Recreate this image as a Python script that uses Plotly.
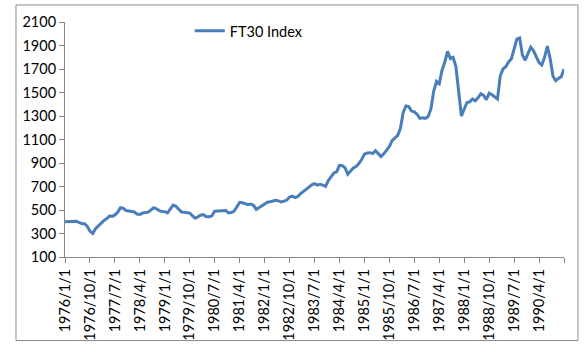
import plotly.graph_objects as go

# Monthly observations, 1976/1 .. 1991/1
months = [f"{1976 + k // 12}/{k % 12 + 1}/1" for k in range(181)]

ft30 = [
    400, 402, 405, 406, 405, 395, 385, 383, 362, 320,
    300, 340, 365, 392, 410, 425, 448, 446, 458, 480,
    520, 515, 495, 492, 490, 483, 465, 462, 474, 476,
    482, 500, 520, 510, 495, 488, 486, 475, 505, 542,
    532, 505, 482, 480, 480, 474, 450, 430, 442, 458,
    460, 443, 442, 450, 490, 492, 491, 497, 495, 475,
    478, 490, 528, 565, 562, 552, 545, 550, 540, 505,
    522, 537, 555, 566, 570, 575, 583, 578, 568, 575,
    585, 610, 618, 605, 615, 640, 656, 676, 695, 714,
    725, 712, 718, 712, 702, 750, 785, 815, 825, 880,
    878, 860, 805, 830, 857, 870, 895, 930, 975, 985,
    988, 980, 1005, 980, 955, 978, 1010, 1040, 1090, 1115,
    1135, 1195, 1330, 1385, 1380, 1342, 1335, 1315, 1280, 1285,
    1280, 1295, 1360, 1510, 1595, 1575, 1690, 1760, 1850, 1790,
    1800, 1720, 1480, 1300, 1360, 1415, 1420, 1445, 1430, 1455,
    1490, 1475, 1440, 1495, 1480, 1460, 1445, 1640, 1700, 1720,
    1760, 1785, 1865, 1955, 1965, 1820, 1775, 1825, 1885, 1855,
    1800, 1755, 1735, 1800, 1895, 1790, 1640, 1600, 1620, 1635,
    1700,
]

tick_cats = months[0::9]
tick_text = tick_cats[:-1] + [""]
y_ticks = list(range(100, 2101, 200))

FONT = "Lato"
AXIS_COLOR = "#868686"

fig = go.Figure()
fig.add_trace(go.Scatter(
    x=months, y=ft30, mode="lines", name="FT30 Index",
    line=dict(color="#4A7EBB", width=3),
))

fig.update_layout(
    width=586, height=352,
    margin=dict(l=65, r=22, t=22, b=95, pad=0),
    paper_bgcolor="white", plot_bgcolor="white",
    font=dict(family=FONT, size=13, color="black"),
    showlegend=True,
    legend=dict(
        x=0.25, y=0.962, xanchor="left", yanchor="middle",
        orientation="h", bgcolor="rgba(0,0,0,0)",
        font=dict(family=FONT, size=14.5, color="black"),
    ),
    shapes=[dict(
        type="rect", xref="paper", yref="paper",
        x0=-0.0982, x1=1.028, y0=-0.3555, y1=1.0725,
        line=dict(color="#8c8c8c", width=1), fillcolor="rgba(0,0,0,0)",
        layer="below",
    )],
)

fig.update_xaxes(
    type="category", range=[0, 180],
    tickmode="array", tickvals=tick_cats, ticktext=tick_text,
    tickangle=-90, ticks="outside", ticklen=5, tickcolor=AXIS_COLOR,
    showline=True, linecolor=AXIS_COLOR, linewidth=1,
    showgrid=False, zeroline=False,
    tickfont=dict(family=FONT, size=14.5, color="black"),
)
fig.update_yaxes(
    range=[100, 2100], tickmode="array", tickvals=y_ticks,
    ticks="outside", ticklen=5, tickcolor=AXIS_COLOR,
    showline=True, linecolor=AXIS_COLOR, linewidth=1,
    showgrid=False, zeroline=False,
    tickfont=dict(family=FONT, size=14.5, color="black"),
)

fig.write_html("out.html")
